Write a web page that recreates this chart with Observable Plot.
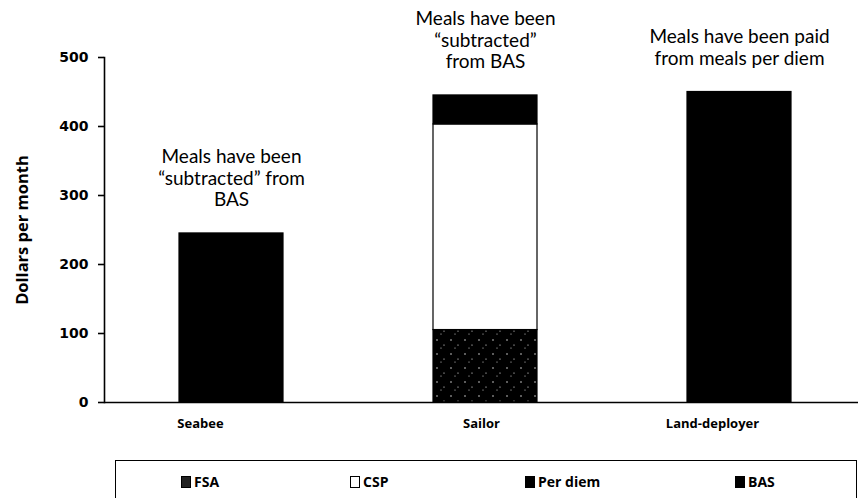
<!DOCTYPE html>
<html>
<head>
<meta charset="utf-8">
<script src="https://cdn.jsdelivr.net/npm/d3@7"></script>
<script src="https://cdn.jsdelivr.net/npm/@observablehq/plot@0.6"></script>
<style>
  html, body { margin: 0; padding: 0; background: #fff; }
  #chart { width: 861px; height: 498px; overflow: hidden; }
  #chart svg { display: block; }
</style>
</head>
<body>
<div id="chart"></div>
<script>
const categories = ["Seabee", "Sailor", "Land-deployer"];
const series = ["FSA", "CSP", "Per diem", "BAS"];
const fsa = [0, 105, 0];
const csp = [0, 298, 0];
const perDiem = [0, 0, 450];
const bas = [245, 42, 0];
const yTicks = [0, 100, 200, 300, 400, 500];
const annotations = [
  "Meals have been\n\u201csubtracted\u201d from\nBAS",
  "Meals have been\n\u201csubtracted\u201d\nfrom BAS",
  "Meals have been paid\nfrom meals per diem"
];
const seriesFill = ["url(#fsa)", "#ffffff", "#000000", "#000000"];
const labelShift = [-31, -4, -27];

const valuesBySeries = [fsa, csp, perDiem, bas];
const rows = [];
series.forEach((s, si) => categories.forEach((c, ci) => {
  rows.push({category: c, series: s, value: valuesBySeries[si][ci]});
}));
const totals = categories.map((c, ci) => ({
  category: c,
  total: valuesBySeries.reduce((a, arr) => a + arr[ci], 0),
  note: annotations[ci]
}));

const svg = Plot.plot({
  width: 861,
  height: 452,
  marginLeft: 104,
  marginRight: 3,
  marginTop: 57,
  marginBottom: 50,
  style: {fontFamily: "'Open Sans', sans-serif", background: "#fff", color: "#000"},
  x: {domain: categories, range: [104, 866], paddingInner: 0.59, paddingOuter: 0.295, label: null},
  y: {domain: [0, 500], label: null},
  color: {type: "ordinal", domain: series, range: seriesFill},
  marks: [
    Plot.barY(rows, {x: "category", y: "value", fill: "series", stroke: "#000", strokeWidth: 1.2, order: series}),
    Plot.ruleY([0], {stroke: "#000", strokeWidth: 1.6}),
    Plot.frame({anchor: "left", stroke: "#000", strokeWidth: 1.6}),
    Plot.axisY({ticks: yTicks, tickSize: 6, tickPadding: 10, fontSize: 14, fontWeight: "bold", fontFamily: "'DejaVu Sans', sans-serif", strokeWidth: 1.6, label: null}),
    ...categories.map((c, i) => Plot.axisX({ticks: [c], tickSize: 0, tickPadding: 16, dx: labelShift[i], fontSize: 13, fontWeight: "bold", label: null})),
    Plot.text(totals, {x: "category", y: "total", text: "note", lineAnchor: "bottom", dy: -27, fontSize: 19, lineHeight: 1.14, fontFamily: "Lato, sans-serif", fill: "#000"}),
    Plot.text(["Dollars per month"], {frameAnchor: "left", textAnchor: "middle", text: d => d, rotate: -90, dx: -82, dy: 0, fontSize: 16.5, fontWeight: "bold"})
  ]
});

// pattern for FSA (dark with white specks)
const ns = "http://www.w3.org/2000/svg";
const defs = document.createElementNS(ns, "defs");
defs.innerHTML = '<pattern id="fsa" width="14" height="14" patternUnits="userSpaceOnUse">' +
  '<rect width="14" height="14" fill="#000"/>' +
  '<circle cx="3" cy="4" r="0.7" fill="#fff"/><circle cx="10" cy="9" r="0.6" fill="#fff"/>' +
  '<circle cx="7" cy="12" r="0.5" fill="#fff"/></pattern>';
svg.insertBefore(defs, svg.firstChild);

const chart = document.getElementById("chart");
chart.appendChild(svg);

const legendBox = document.createElement("div");
legendBox.style.cssText = "position:relative;margin-left:115px;margin-top:8px;width:742px;height:50px;" +
  "border:1.6px solid #000;box-sizing:border-box;font-family:'Open Sans',sans-serif;font-weight:bold;font-size:14px;color:#000;";
const lefts = [65, 234, 409, 619];
series.forEach((s, i) => {
  const item = document.createElement("div");
  item.style.cssText = "position:absolute;top:11px;display:flex;align-items:center;line-height:20px;left:" + lefts[i] + "px;";
  const sw = document.createElement("span");
  sw.style.cssText = "display:inline-block;width:10px;height:12px;border:1.3px solid #000;box-sizing:border-box;margin-right:3px;background:" +
    (i === 0 ? "#222" : seriesFill[i]) + ";";
  const label = document.createElement("span");
  label.textContent = s;
  item.appendChild(sw);
  item.appendChild(label);
  legendBox.appendChild(item);
});
chart.appendChild(legendBox);
</script>
</body>
</html>
